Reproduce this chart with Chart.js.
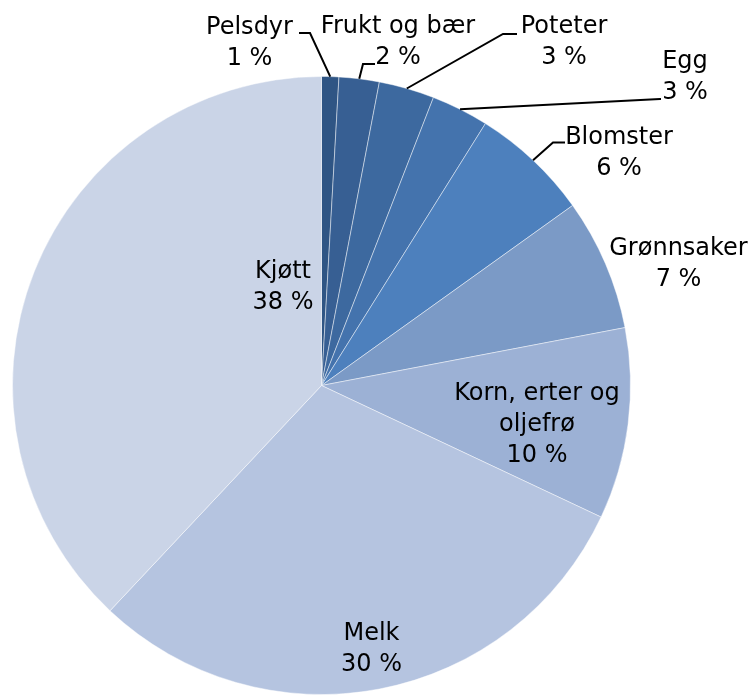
<!DOCTYPE html>
<html>
<head>
<meta charset="utf-8">
<script src="https://cdn.jsdelivr.net/npm/chart.js@4"></script>
<style>
  html, body { margin: 0; padding: 0; background: #fff; }
  canvas { display: block; }
</style>
</head>
<body>
<canvas id="c" width="748" height="695"></canvas>
<script>
// ---- data ----
const categories = ['Pelsdyr', 'Frukt og bær', 'Poteter', 'Egg', 'Blomster', 'Grønnsaker', 'Korn, erter og oljefrø', 'Melk', 'Kjøtt'];
const labelLines = [['Pelsdyr'], ['Frukt og bær'], ['Poteter'], ['Egg'], ['Blomster'], ['Grønnsaker'], ['Korn, erter og', 'oljefrø'], ['Melk'], ['Kjøtt']];
const shares = [0.9, 2.1, 2.9, 3.0, 6.2, 6.9, 10.0, 30.0, 38.0];
const shareLabels = ['1 %', '2 %', '3 %', '3 %', '6 %', '7 %', '10 %', '30 %', '38 %'];

// ---- style ----
const colors = ['#2f5584', '#375f93', '#3d699f', '#4473ad', '#4d80bd', '#7b9ac6', '#9cb1d5', '#b5c4e0', '#cad4e7'];
const FONT = '24px "DejaVu Sans", sans-serif';
const LINE_H = 31;
// label placement: center x / first baseline, relative to pie centre
const labelPlace = [
  { dx: -72, dy: -352 },
  { dx: 76.5, dy: -352.5 },
  { dx: 242.5, dy: -352.5 },
  { dx: 363.5, dy: -318 },
  { dx: 297.5, dy: -242 },
  { dx: 357, dy: -130.5 },
  { dx: 215.5, dy: 14 },
  { dx: 50, dy: 254.5 },
  { dx: -38.5, dy: -107.5 }
];
// leader line: elbow and end, relative to pie centre (null = none)
const leaders = [
  [[-11.5, -352.5], [-22.5, -352.5]],
  [[41.5, -321.5], [53.5, -321.5]],
  [[181.5, -351.5], [195.5, -351.5]],
  [[338.5, -286.5], [339.5, -286.5]],
  [[231.5, -243], [243.5, -243]],
  null, null, null, null
];

const labelPlugin = {
  id: 'pieLabels',
  afterDatasetsDraw(chart) {
    const ctx = chart.ctx;
    const meta = chart.getDatasetMeta(0);
    ctx.save();
    meta.data.forEach((arc, i) => {
      const p = arc.getProps(['x', 'y', 'startAngle', 'endAngle', 'outerRadius'], true);
      const cx = p.x, cy = p.y;
      const L = leaders[i];
      if (L) {
        const mid = (p.startAngle + p.endAngle) / 2;
        const sx = cx + Math.cos(mid) * p.outerRadius;
        const sy = cy + Math.sin(mid) * p.outerRadius;
        ctx.beginPath();
        ctx.moveTo(sx, sy);
        ctx.lineTo(cx + L[0][0], cy + L[0][1]);
        ctx.lineTo(cx + L[1][0], cy + L[1][1]);
        ctx.strokeStyle = '#000';
        ctx.lineWidth = 2;
        ctx.stroke();
      }
      const lines = labelLines[i].concat([shareLabels[i]]);
      ctx.font = FONT;
      ctx.fillStyle = '#000';
      ctx.textAlign = 'center';
      ctx.textBaseline = 'alphabetic';
      const lp = labelPlace[i];
      lines.forEach((t, k) => {
        ctx.fillText(t, cx + lp.dx, cy + lp.dy + k * LINE_H);
      });
    });
    ctx.restore();
  }
};

new Chart(document.getElementById('c'), {
  type: 'pie',
  data: {
    labels: categories,
    datasets: [{
      data: shares,
      backgroundColor: colors,
      borderColor: 'rgba(255,255,255,0.45)',
      borderWidth: 1,
      hoverOffset: 0
    }]
  },
  options: {
    responsive: false,
    animation: false,
    layout: { padding: { left: 12, top: 76, right: 117, bottom: 0 } },
    plugins: { legend: { display: false }, tooltip: { enabled: false } }
  },
  plugins: [labelPlugin]
});
</script>
</body>
</html>
